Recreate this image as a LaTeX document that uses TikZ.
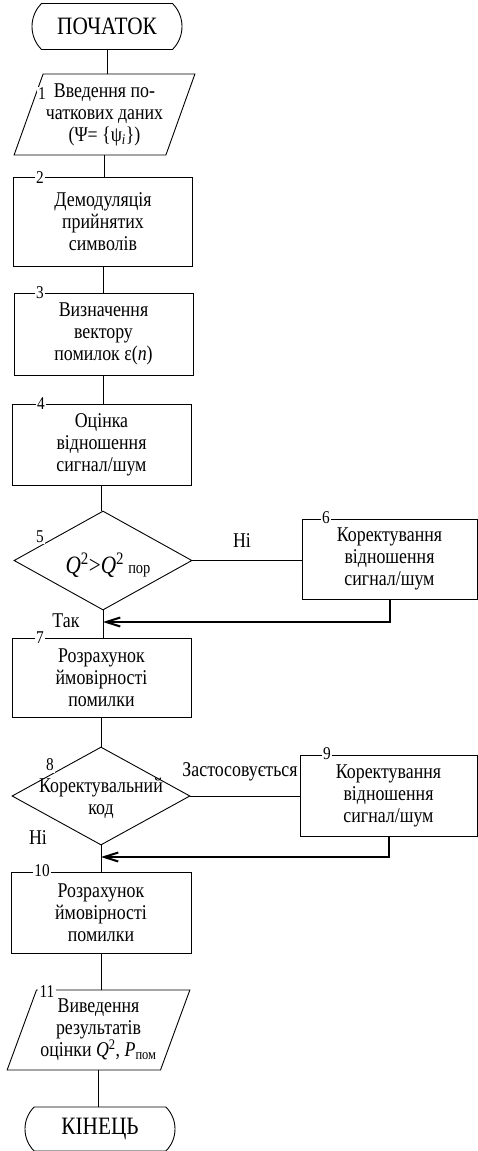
\documentclass[tikz,border=0pt]{standalone}
\usepackage{fontspec}
\setmainfont[FakeStretch=0.85]{Liberation Serif}
\usetikzlibrary{arrows.meta,shapes.geometric,shapes.misc}
\tikzset{
  >={Straight Barb[length=14pt,width=9pt]},
  txt/.style={font=\fontsize{21}{22}\selectfont,align=center},
  blok/.style={draw,line width=0.9pt,minimum width=179pt,minimum height=81pt,
    inner sep=1pt,txt},
  term/.style={rounded rectangle,rounded rectangle arc length=90,draw,line width=0.9pt,
    minimum width=150pt,minimum height=46pt,inner sep=0pt,font=\fontsize{25}{26}\selectfont},
  vvid/.style={trapezium,trapezium left angle=66,trapezium right angle=114,
    trapezium stretches=true,draw,line width=0.9pt,minimum width=181pt,
    minimum height=81pt,inner sep=0pt,txt},
  umova/.style={diamond,draw,line width=0.9pt,minimum width=178pt,minimum height=99pt,
    inner sep=0pt},
  nomer/.style={fill=white,inner sep=1.5pt,font=\fontsize{18}{18}\selectfont},
  napys/.style={font=\fontsize{21}{22}\selectfont},
  zv/.style={line width=0.9pt},
  povern/.style={->,line width=2pt},
}
\begin{document}
\begin{tikzpicture}[x=1pt,y=-1pt]
  \useasboundingbox (0,0) rectangle (478,1151);
  % blocks of the main branch
  \node[term] (t0) at (107,26.5) {ПОЧАТОК};
  \node[vvid] (p1) at (104.5,114.5) {Введення по-\\чаткових даних\\(Ψ= \{ψ\textsubscript{\textit{i}}\})};
  \node[blok,minimum height=89pt] (b2) at (103,221.5) {Демодуляція\\прийнятих\\символів};
  \node[blok,minimum height=82pt] (b3) at (103.5,334) {Визначення\\вектору\\помилок ε(\textit{n})};
  \node[blok] (b4) at (101.5,444.5) {Оцінка\\відношення\\сигнал/шум};
  \node[umova] (d5) at (103,560.5) {};
  \node[txt,font=\fontsize{25}{26}\selectfont] (d5t) at (108,565) {\textit{Q}\textsuperscript{2}>\textit{Q}\textsuperscript{2}\,{\fontsize{17}{17}\selectfont пор}};
  \node[blok,minimum width=175pt,minimum height=80pt] (b6) at (389.5,559) {Коректування\\відношення\\сигнал/шум};
  \node[blok,minimum height=79pt] (b7) at (101.5,677.5) {Розрахунок\\ймовірності\\помилки};
  \node[umova,minimum height=98pt] (d8) at (101,796) {};
  \node[txt] (d8t) at (101,798) {Коректувальний\\код};
  \node[blok,minimum width=177pt] (b9) at (388.5,795.5) {Коректування\\відношення\\сигнал/шум};
  \node[blok,minimum width=180pt] (b10) at (101,912.5) {Розрахунок\\ймовірності\\помилки};
  \node[vvid,minimum width=183pt,minimum height=80pt] (p11) at (98.5,1030) {Виведення\\результатів\\оцінки \textit{Q}\textsuperscript{2}, \textit{P}\textsubscript{пом}};
  \node[term,minimum height=44pt] (t12) at (100,1129) {КІНЕЦЬ};
  % numbers
  \node[nomer] (n1) at (42,94) {1};
  \node[nomer] (n2) at (40,178) {2};
  \node[nomer] (n3) at (40,293) {3};
  \node[nomer] (n4) at (41,404) {4};
  \node[nomer] (n5) at (40,537) {5};
  \node[nomer] (n6) at (326,518) {6};
  \node[nomer] (n7) at (40,638) {7};
  \node[nomer] (n8) at (50,765) {8};
  \node[nomer] (n9) at (327,754) {9};
  \node[nomer] (n10) at (42,871) {10};
  \node[nomer] (n11) at (47,992) {11};
  % branch labels
  \node[napys] (l5n) at (242,541) {Ні};
  \node[napys] (l5t) at (66,621) {Так};
  \node[napys] (l8z) at (240,772) {Застосовується};
  \node[napys] (l8n) at (38,838) {Ні};
  % connectors
  \coordinate (j6) at (103,622);
  \coordinate (j9) at (101,857);
  \draw[zv] (t0.south) -- (t0.south |- p1.north);
  \draw[zv] (p1.south) -- (p1.south |- b2.north);
  \draw[zv] (b2.south) -- (b2.south |- b3.north);
  \draw[zv] (b3.south) -- (b3.south |- b4.north);
  \draw[zv] (b4.south) -- (b4.south |- d5.north);
  \draw[zv] (d5.east) -- (d5.east -| b6.west);
  \draw[zv] (d5.south) -- (d5.south |- b7.north);
  \draw[povern] (b6.south) |- (j6);
  \draw[zv] (b7.south) -- (b7.south |- d8.north);
  \draw[zv] (d8.east) -- (d8.east -| b9.west);
  \draw[zv] (d8.south) -- (d8.south |- b10.north);
  \draw[povern] (b9.south) |- (j9);
  \draw[zv] (b10.south) -- (b10.south |- p11.north);
  \draw[zv] (p11.south) -- (p11.south |- t12.north);
\end{tikzpicture}
\end{document}
